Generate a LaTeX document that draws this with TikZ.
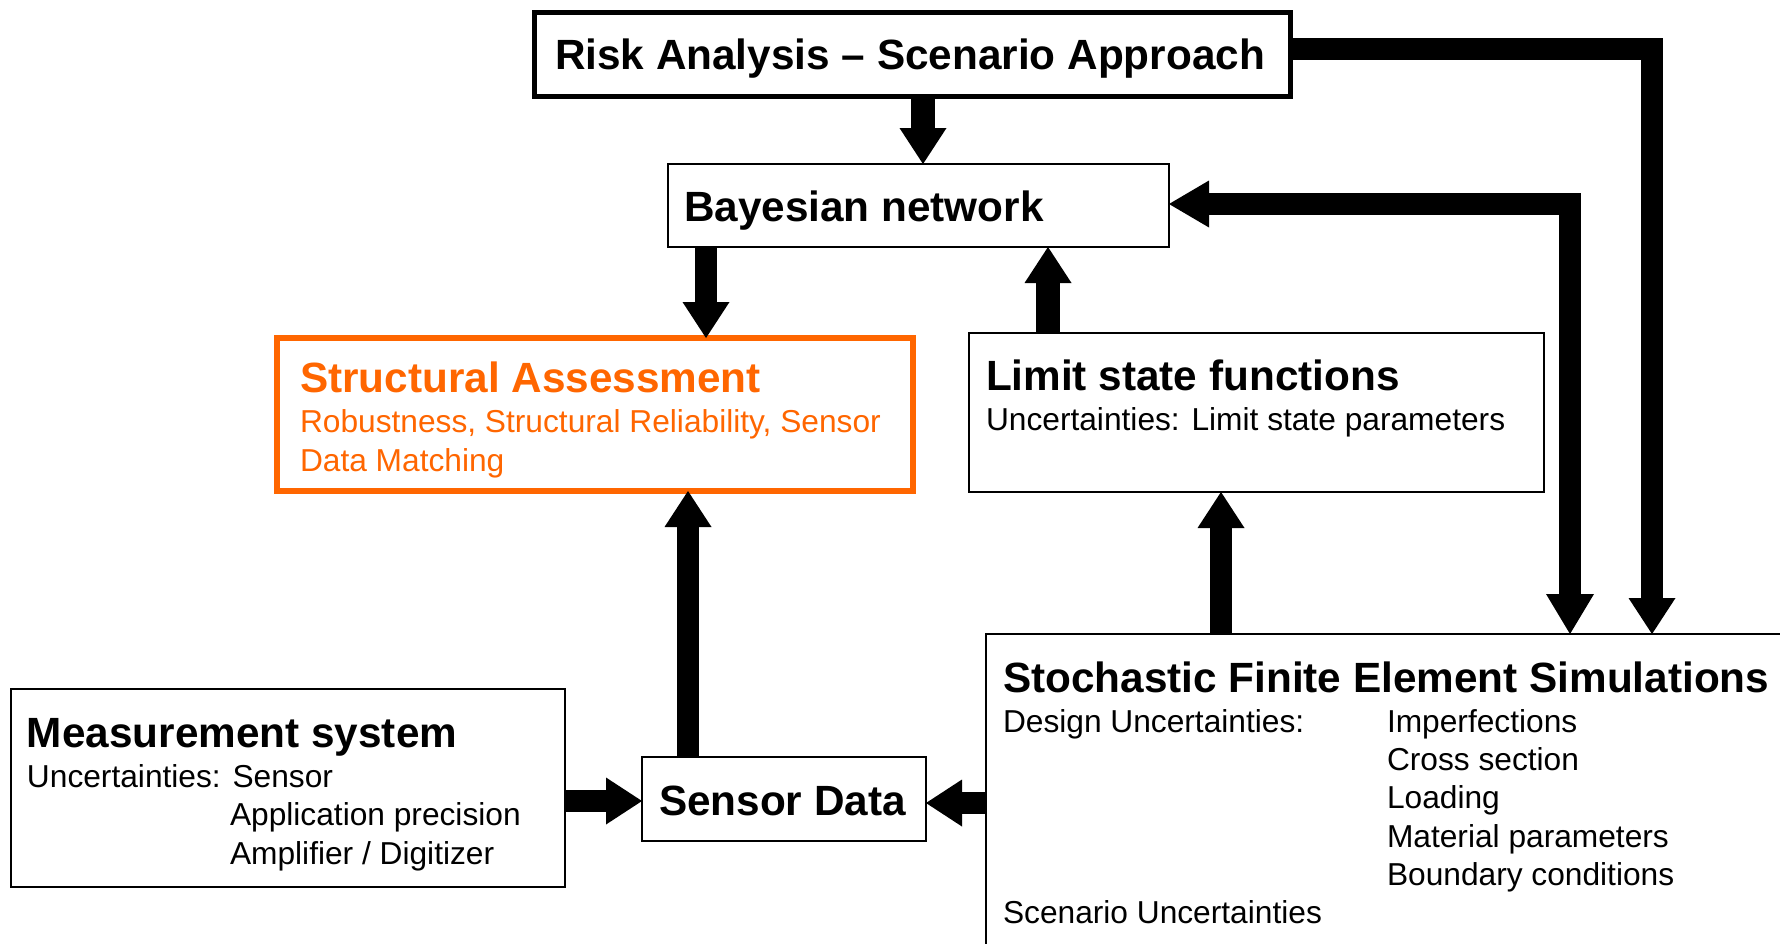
\documentclass[tikz,border=0pt]{standalone}
\usepackage{fontspec}
\setmainfont{Liberation Sans}
\usetikzlibrary{arrows.meta}
\definecolor{assess}{RGB}{255,102,0}
\newcommand\titlefont{\fontsize{42.3}{50}\selectfont\bfseries}
\newcommand\bodyfont{\fontsize{31.7}{38}\selectfont}
\tikzset{
  box/.style={draw, rectangle, inner sep=0pt, outer sep=0pt, anchor=north west, line width=2pt},
  ttl/.style={anchor=base west, inner sep=0pt, outer sep=0pt, font=\titlefont},
  txt/.style={anchor=base west, inner sep=0pt, outer sep=0pt, font=\bodyfont},
  tipshape/.style={},
  flow/.style={draw, line width=22pt, line join=miter,
    -{Triangle[width=47pt,length=36pt,line width=0pt]}},
  flowboth/.style={draw, line width=22pt, line join=miter,
    {Triangle[width=47pt,length=40pt,line width=0pt]}-{Triangle[width=48pt,length=40pt,line width=0pt]}}
}
\begin{document}
\begin{tikzpicture}[x=1pt, y=-1pt]
\useasboundingbox (0,0) rectangle (1780,943);
\fill[white] (0,0) rectangle (1780,943);
\clip (0,0) rectangle (1780,943);

% boxes
\node[box, line width=5pt, minimum width=756pt, minimum height=84pt] (ra) at (534,12) {};
\node[box, minimum width=501pt, minimum height=83pt] (bn) at (668,164) {};
\node[box, draw=assess, line width=6pt, minimum width=636pt, minimum height=153pt] (sa) at (276.5,338) {};
\node[box, minimum width=575pt, minimum height=159pt] (ls) at (969,333) {};
\node[box, minimum width=554pt, minimum height=198pt] (ms) at (11,689) {};
\node[box, minimum width=284pt, minimum height=84pt] (sd) at (642,757) {};
\node[box, minimum width=850pt, minimum height=350pt] (sfe) at (986,634) {};

% texts
\node[ttl] (raT) at (555,69) {Risk Analysis – Scenario Approach};
\node[ttl] (bnT) at (684,221) {Bayesian network};

\node[ttl, text=assess] (saT) at (300,392) {Structural Assessment};
\node[txt, text=assess] (saL1) at (300,432) {Robustness, Structural Reliability, Sensor};
\node[txt, text=assess] (saL2) at (300,471) {Data Matching};

\node[ttl] (lsT) at (986,390) {Limit state functions};
\node[txt] (lsL1) at (986,430) {Uncertainties: Limit state parameters};

\node[ttl] (msT) at (27,747) {Measurement system};
\node[txt] (msL1) at (27,787) {Uncertainties: Sensor};
\node[txt] (msL2) at (230,825) {Application precision};
\node[txt] (msL3) at (230,864) {Amplifier / Digitizer};

\node[ttl] (sdT) at (659,815) {Sensor Data};

\node[ttl] (sfeT) at (1003,692) {Stochastic Finite Element Simulations};
\node[txt] (sfeL1) at (1003,732) {Design Uncertainties:};
\node[txt] (sfeA) at (1387,732) {Imperfections};
\node[txt] (sfeB) at (1387,770) {Cross section};
\node[txt] (sfeC) at (1387,808) {Loading};
\node[txt] (sfeD) at (1387,847) {Material parameters};
\node[txt] (sfeE) at (1387,885) {Boundary conditions};
\node[txt] (sfeL2) at (1003,923) {Scenario Uncertainties};

% guide coordinates for the connector lanes
\coordinate (lane1) at (923,0);
\coordinate (lane2) at (706,0);
\coordinate (lane3) at (1048,0);
\coordinate (lane4) at (688,0);
\coordinate (lane5) at (1221,0);
\coordinate (lane6) at (0,801);
\coordinate (lane7) at (0,803);
\coordinate (bend8) at (1652,49);
\coordinate (bend9) at (1570,204);

% connectors
\draw[flow, line width=24pt] (ra.south -| lane1) -- (bn.north -| lane1);
\draw[flow] (bn.south -| lane2) -- (sa.north -| lane2);
\draw[flow, line width=24pt] (ls.north -| lane3) -- (bn.south -| lane3);
\draw[flow] (sd.north -| lane4) -- (sa.south -| lane4);
\draw[flow] (sfe.north -| lane5) -- (ls.south -| lane5);
\draw[flow] (ms.east |- lane6) -- (sd.west |- lane6);
\draw[flow] (sfe.west |- lane7) -- (sd.east |- lane7);
\draw[flow] (ra.east |- bend8) -| (sfe.north -| bend8);
\draw[flowboth] (bn.east |- bend9) -| (sfe.north -| bend9);
\end{tikzpicture}
\end{document}
